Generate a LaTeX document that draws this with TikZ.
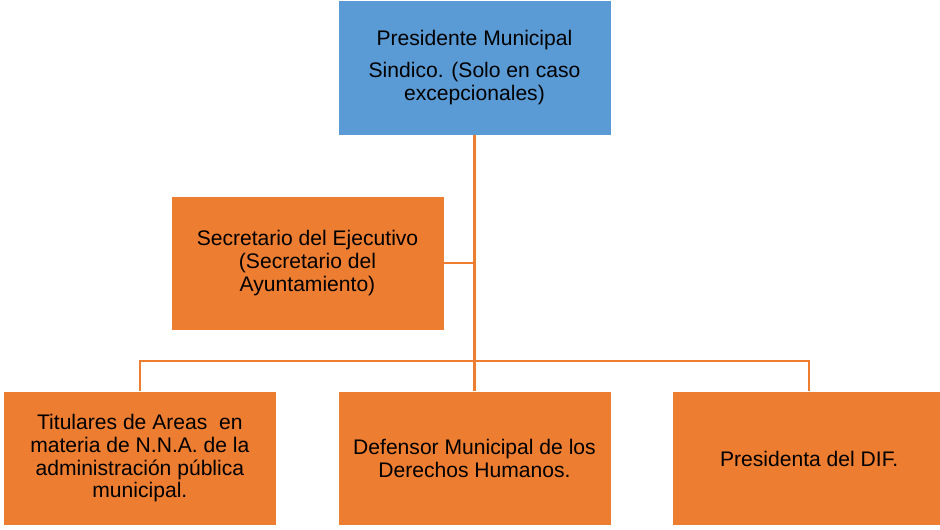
\documentclass[tikz,border=0pt]{standalone}
\usepackage{fontspec}
\setmainfont{Liberation Sans}
\usepackage{xcolor}
\usetikzlibrary{positioning}
\definecolor{headblue}{HTML}{5B9BD5}
\definecolor{unitorange}{HTML}{ED7D31}

\begin{document}
\begin{tikzpicture}[
  x=0.02cm,y=-0.02cm,
  unit/.style={draw=white,line width=.4pt,fill=unitorange,inner sep=2pt,
    minimum width=5.46cm,minimum height=2.68cm,align=center},
  head/.style={unit,fill=headblue,minimum height=2.7cm},
  link/.style={unitorange,line width=1.5pt},
  every node/.style={font=\fontsize{12}{12.9}\selectfont}
]
  \useasboundingbox (0,0) rectangle (940,529);
  \node[head] (presidente) at (474.5,67.5)
    {Presidente Municipal\\[5pt]Sindico. (Solo en caso\\excepcionales)};
  \node[unit] (secretario) at (307.5,263)
    {Secretario del Ejecutivo\\(Secretario del\\Ayuntamiento)};
  \node[unit] (defensor) at (474.5,458.5)
    {Defensor Municipal de los\\Derechos Humanos.};
  \node[unit,left=1.22cm of defensor] (titulares)
    {Titulares de Areas\ \ en\\materia de N.N.A. de la\\administración pública\\municipal.};
  \node[unit,right=1.22cm of defensor] (dif) {Presidenta del DIF.};
  % lineas de mando
  \draw[link] (presidente.south) -- (defensor.north);
  \draw[link] (secretario.east) -- (secretario.east -| presidente.south);
  \draw[link] (titulares.north) -- ++(0,-30) -| (dif.north);
\end{tikzpicture}
\end{document}
